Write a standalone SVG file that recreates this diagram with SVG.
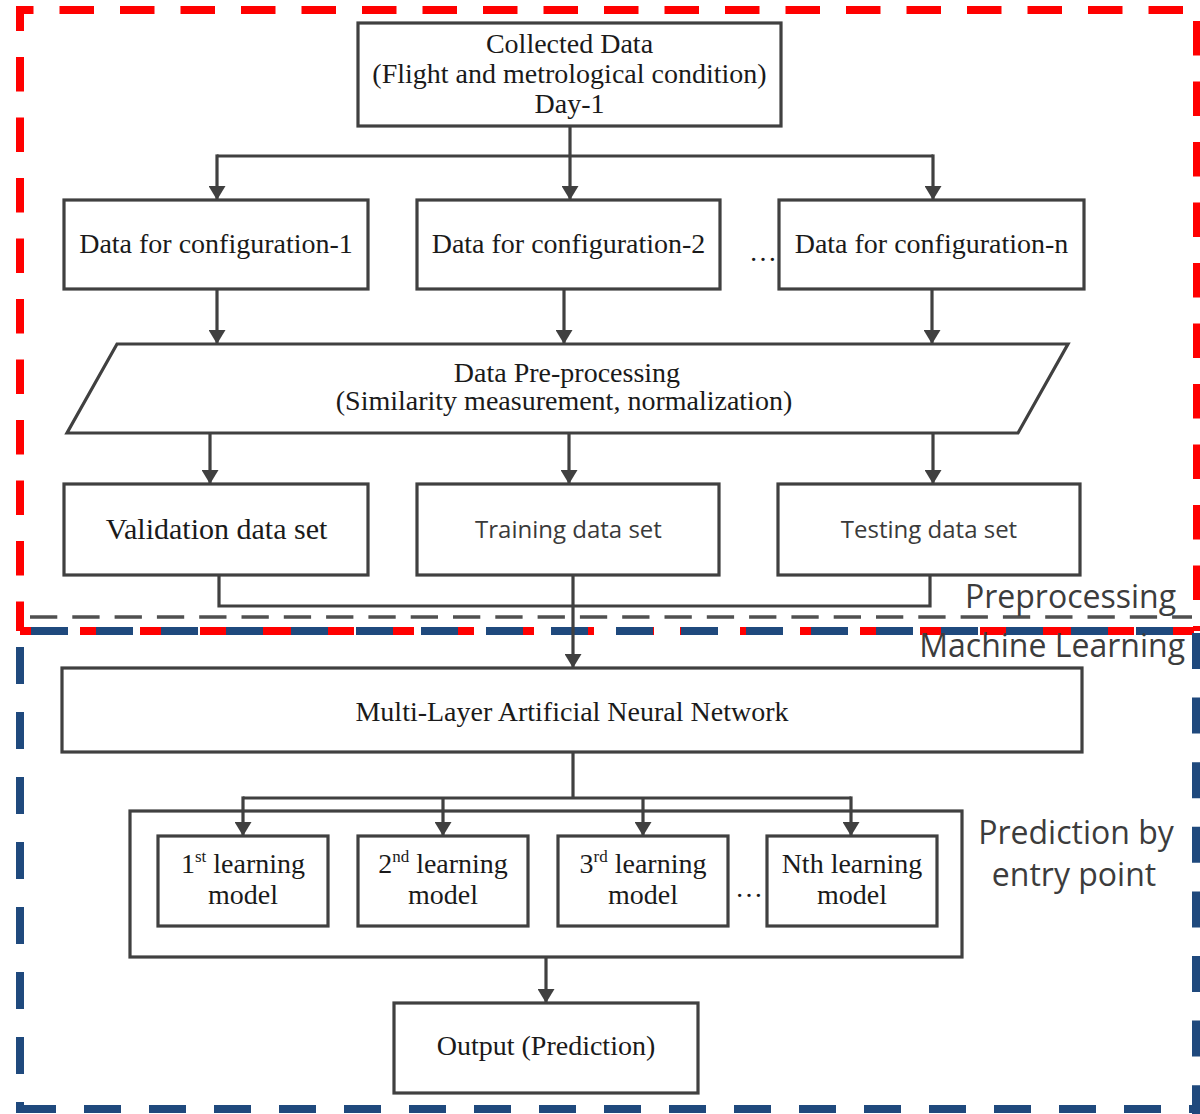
<svg xmlns="http://www.w3.org/2000/svg" width="1200" height="1114" viewBox="0 0 1200 1114">
  <defs>
    <marker id="arrow" markerUnits="userSpaceOnUse" markerWidth="14" markerHeight="17" viewBox="0 0 14 17" refX="14" refY="8.5" orient="auto">
      <path d="M0,0 L14,8.5 L0,17 Z" fill="#404040"/>
    </marker>
    <style>
      .box { fill: #ffffff; stroke: #404040; stroke-width: 3.2; }
      .frame { fill: none; stroke: #404040; stroke-width: 3.2; }
      .link { fill: none; stroke: #404040; stroke-width: 3.2; }
      .arrow { marker-end: url(#arrow); }
      .serif { font-family: "Liberation Serif", "Times New Roman", serif; font-size: 28px; fill: #1a1a1a; text-anchor: middle; }
      .sans { font-family: "Open Sans", "Liberation Sans", sans-serif; font-size: 24px; fill: #3a3a3a; text-anchor: middle; }
      .label { font-family: "Open Sans", "Liberation Sans", sans-serif; font-size: 32px; fill: #3c3c3c; }
      .red { fill: none; stroke: #ff0000; stroke-width: 8; stroke-dasharray: 34.5 26; }
      .blue { fill: none; stroke: #1f497d; stroke-width: 8; stroke-dasharray: 37 28; }
    </style>
  </defs>

  <rect width="1200" height="1114" fill="#ffffff"/>

  <!-- Preprocessing region (red dashed frame) -->
  <g id="region-preprocessing">
    <path d="M20,31 V10 H33.5" fill="none" stroke="#ff0000" stroke-width="8"/>
    <line class="red" x1="59.5" y1="10" x2="1197" y2="10"/>
    <line class="red" x1="1197" y1="21" x2="1197" y2="631"/>
    <line class="red" x1="1194" y1="631" x2="20" y2="631" style="stroke-dasharray: 34 26"/>
    <line class="red" x1="20" y1="57" x2="20" y2="631"/>
  </g>

  <!-- Machine learning region (blue dashed frame) -->
  <g id="region-machine-learning">
    <line class="blue" x1="31" y1="631" x2="1196" y2="631"/>
    <line class="blue" x1="1196" y1="633" x2="1196" y2="1114" style="stroke-dasharray: 36 28.6"/>
    <line class="blue" x1="19" y1="1109" x2="1200" y2="1109"/>
    <line class="blue" x1="20" y1="647" x2="20" y2="1113"/>
  </g>

  <!-- separator between the two stages -->
  <line id="stage-separator" x1="30" y1="617" x2="1192" y2="617" stroke="#505050" stroke-width="3.5" stroke-dasharray="27.3 15"/>

  <g id="region-labels">
    <text class="label" x="1176" y="608" text-anchor="end">Preprocessing</text>
    <text class="label" x="1185" y="657" text-anchor="end">Machine Learning</text>
    <text class="label" x="1076" y="844" text-anchor="middle">Prediction by</text>
    <text class="label" x="1074" y="886" text-anchor="middle">entry point</text>
  </g>

  <!-- connectors -->
  <g id="connectors">
    <line class="link" x1="217" y1="156" x2="933" y2="156"/>
    <line class="link arrow" x1="570" y1="126" x2="570" y2="200"/>
    <line class="link arrow" x1="217" y1="154.4" x2="217" y2="200"/>
    <line class="link arrow" x1="933" y1="154.4" x2="933" y2="200"/>

    <line class="link arrow" x1="217" y1="289" x2="217" y2="344"/>
    <line class="link arrow" x1="564" y1="289" x2="564" y2="344"/>
    <line class="link arrow" x1="932" y1="289" x2="932" y2="344"/>

    <line class="link arrow" x1="210" y1="433" x2="210" y2="484"/>
    <line class="link arrow" x1="569" y1="433" x2="569" y2="484"/>
    <line class="link arrow" x1="933" y1="433" x2="933" y2="484"/>

    <path class="link" d="M219,575 V606 H930 V575"/>
    <line class="link arrow" x1="573" y1="575" x2="573" y2="668"/>

    <line class="link" x1="573" y1="752" x2="573" y2="798"/>
    <line class="link" x1="243" y1="798" x2="851" y2="798"/>
    <line class="link arrow" x1="243" y1="796.4" x2="243" y2="836"/>
    <line class="link arrow" x1="443" y1="798" x2="443" y2="836"/>
    <line class="link arrow" x1="643" y1="798" x2="643" y2="836"/>
    <line class="link arrow" x1="851" y1="796.4" x2="851" y2="836"/>

    <line class="link arrow" x1="546" y1="957" x2="546" y2="1003"/>
  </g>

  <!-- nodes -->
  <g id="collected-data">
    <rect class="box" x="358" y="23" width="423" height="103"/>
    <text class="serif" x="569.5" y="53">Collected Data</text>
    <text class="serif" x="569.5" y="83">(Flight and metrological condition)</text>
    <text class="serif" x="569.5" y="113">Day-1</text>
  </g>

  <g id="config-1">
    <rect class="box" x="64" y="200" width="304" height="89"/>
    <text class="serif" x="216" y="253">Data for configuration-1</text>
  </g>
  <g id="config-2">
    <rect class="box" x="417" y="200" width="303" height="89"/>
    <text class="serif" x="568.5" y="253">Data for configuration-2</text>
  </g>
  <text id="config-ellipsis" class="serif" x="763" y="261">…</text>
  <g id="config-n">
    <rect class="box" x="779" y="200" width="305" height="89"/>
    <text class="serif" x="931.5" y="253">Data for configuration-n</text>
  </g>

  <g id="pre-processing">
    <polygon class="box" points="117,344 1068,344 1018,433 67,433"/>
    <text class="serif" x="567" y="382">Data Pre-processing</text>
    <text class="serif" x="564" y="410">(Similarity measurement, normalization)</text>
  </g>

  <g id="validation-set">
    <rect class="box" x="64" y="484" width="304" height="91"/>
    <text class="serif" x="216.5" y="539" style="font-size:30px">Validation data set</text>
  </g>
  <g id="training-set">
    <rect class="box" x="417" y="484" width="302" height="91"/>
    <text class="sans" x="568.5" y="538">Training data set</text>
  </g>
  <g id="testing-set">
    <rect class="box" x="778" y="484" width="302" height="91"/>
    <text class="sans" x="929" y="538">Testing data set</text>
  </g>

  <g id="neural-network">
    <rect class="box" x="62" y="668" width="1020" height="84"/>
    <text class="serif" x="572" y="721">Multi-Layer Artificial Neural Network</text>
  </g>

  <g id="prediction-models">
    <rect class="frame" x="130" y="811" width="832" height="146"/>
    <g id="model-1">
      <rect class="box" x="158" y="836" width="170" height="90"/>
      <text class="serif" x="243" y="873">1<tspan font-size="17" dy="-11">st</tspan><tspan dy="11"> learning</tspan></text>
      <text class="serif" x="243" y="904">model</text>
    </g>
    <g id="model-2">
      <rect class="box" x="358" y="836" width="170" height="90"/>
      <text class="serif" x="443" y="873">2<tspan font-size="17" dy="-11">nd</tspan><tspan dy="11"> learning</tspan></text>
      <text class="serif" x="443" y="904">model</text>
    </g>
    <g id="model-3">
      <rect class="box" x="558" y="836" width="170" height="90"/>
      <text class="serif" x="643" y="873">3<tspan font-size="17" dy="-11">rd</tspan><tspan dy="11"> learning</tspan></text>
      <text class="serif" x="643" y="904">model</text>
    </g>
    <text id="model-ellipsis" class="serif" x="749" y="897">…</text>
    <g id="model-n">
      <rect class="box" x="767" y="836" width="170" height="90"/>
      <text class="serif" x="852" y="873">Nth learning</text>
      <text class="serif" x="852" y="904">model</text>
    </g>
  </g>

  <g id="output">
    <rect class="box" x="394" y="1003" width="304" height="90"/>
    <text class="serif" x="546" y="1055">Output (Prediction)</text>
  </g>
</svg>
